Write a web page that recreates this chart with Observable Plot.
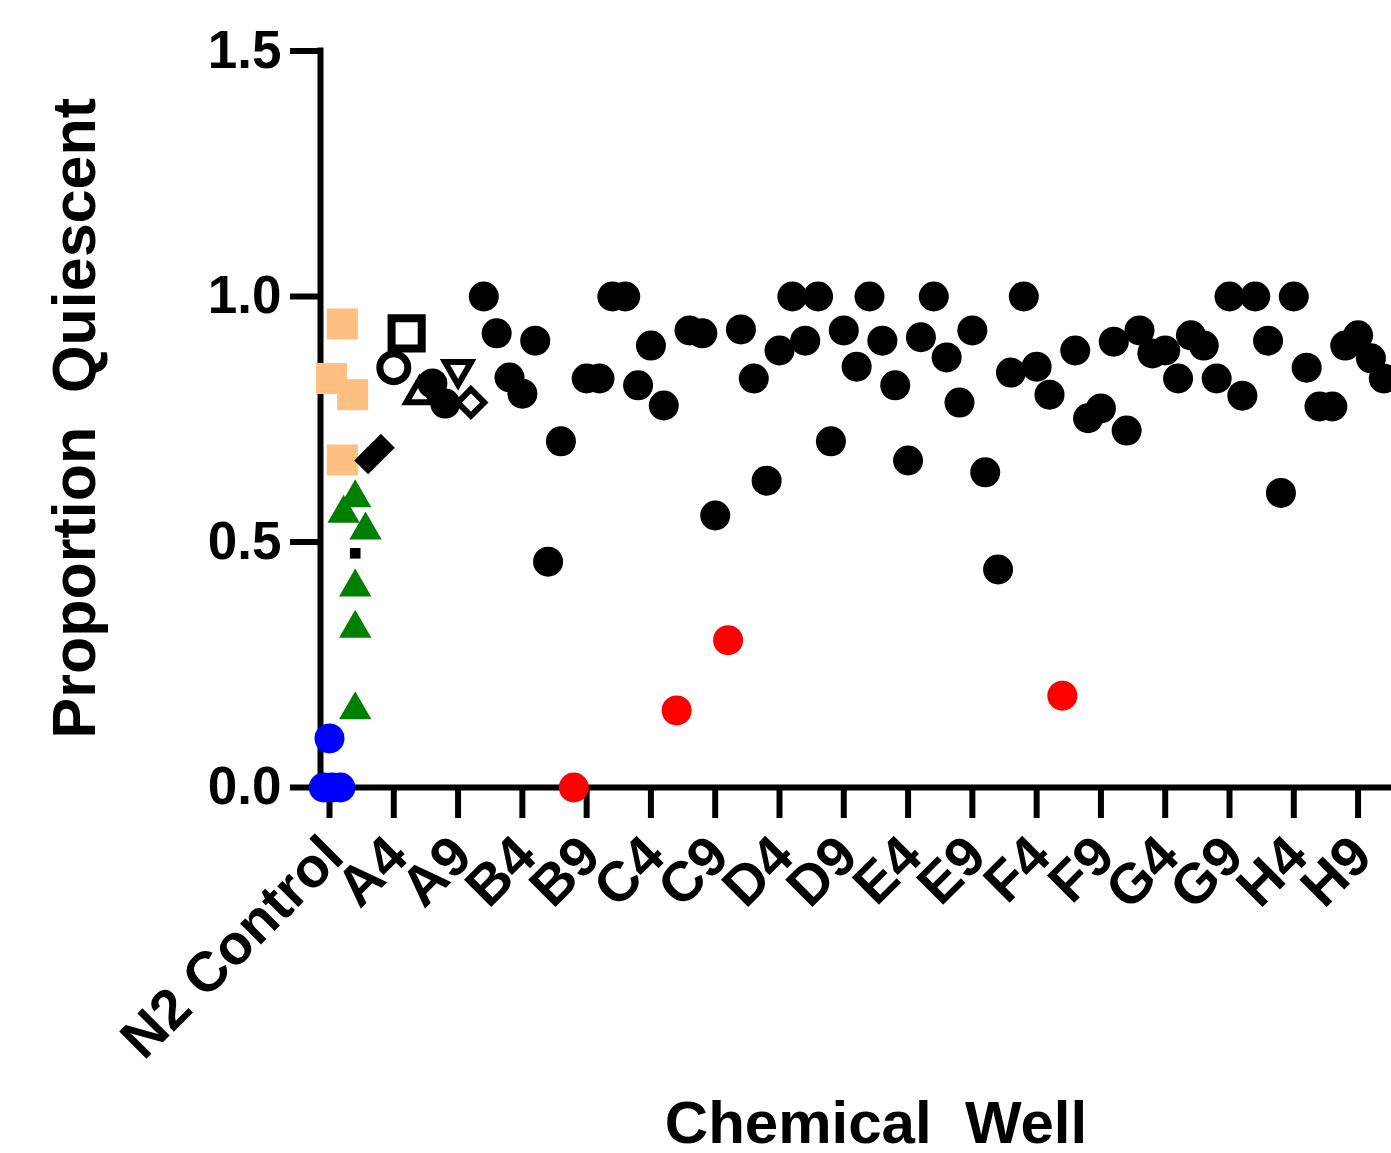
<!DOCTYPE html>
<html>
<head>
<meta charset="utf-8">
<script src="https://cdn.jsdelivr.net/npm/d3@7"></script>
<script src="https://cdn.jsdelivr.net/npm/@observablehq/plot@0.6"></script>
<style>
  html, body { margin: 0; padding: 0; background: #fff; }
  #chart svg { display: block; }
  #chart svg text { white-space: pre; }
</style>
</head>
<body>
<div id="chart"></div>
<script>
// ---- Axis ticks ----
const tickWells = [0, 5, 10, 15, 20, 25, 30, 35, 40, 45, 50, 55, 60, 65, 70, 75, 80];
const tickLabels = ["N2 Control", "A4", "A9", "B4", "B9", "C4", "C9", "D4", "D9", "E4", "E9", "F4", "F9", "G4", "G9", "H4", "H9"];
const yTicks = [0, 0.5, 1.0, 1.5];

// ---- Control columns (column position, value) ----
const n2ControlX = [0, -0.45, 0.2, 0.85];
const n2ControlY = [0.1, 0, 0, 0];

const orangeX = [1.0, 0.15, 1.8, 1.0];
const orangeY = [0.944, 0.833, 0.8, 0.667];

const greenX = [2.0, 1.1, 2.8, 2.0, 2.0, 2.0];
const greenY = [0.59, 0.558, 0.524, 0.408, 0.324, 0.158];

const smallSquareX = [2];
const smallSquareY = [0.477];

const blackDiamondX = [3, 4];
const blackDiamondY = [0.666, 0.692];

const openCircleX = [5];   const openCircleY = [0.855];
const openSquareX = [6];   const openSquareY = [0.925];
const openTriUpX = [7];    const openTriUpY = [0.80];
const openTriDownX = [10]; const openTriDownY = [0.851];
const openDiamondX = [11]; const openDiamondY = [0.784];

// ---- Screened wells (black circles), wells 8-9 and 12-82 ----
const earlyWellX = [8, 9];
const earlyWellY = [0.823, 0.782];

const screenStart = 12;
const screenValues = [
  1.0, 0.925, 0.835, 0.802, 0.91, 0.46, 0.705, 0.0,      // 12-19
  0.833, 0.833, 1.0, 1.0, 0.819, 0.9, 0.778, 0.157,      // 20-27
  0.931, 0.925, 0.554, 0.3, 0.933, 0.833, 0.625, 0.89,   // 28-35
  1.0, 0.91, 1.0, 0.705, 0.931, 0.857, 1.0, 0.91,        // 36-43
  0.819, 0.666, 0.917, 1.0, 0.876, 0.784, 0.931, 0.642,  // 44-51
  0.444, 0.845, 1.0, 0.857, 0.80, 0.187, 0.89, 0.752,    // 52-59
  0.772, 0.908, 0.727, 0.931, 0.884, 0.89, 0.833, 0.921, // 60-67
  0.90, 0.833, 1.0, 0.798, 1.0, 0.91, 0.60, 1.0,         // 68-75
  0.855, 0.776, 0.776, 0.90, 0.921, 0.874, 0.833        // 76-82
];
// wells flagged as hits (red)
const hitWells = [19, 27, 31, 57];

// ---- Build tables ----
const pts = (xs, ys) => xs.map((x, i) => ({x, y: ys[i]}));
const screen = screenValues.map((v, i) => ({x: screenStart + i, y: v, hit: hitWells.includes(screenStart + i)}));
const blackWells = pts(earlyWellX, earlyWellY).concat(screen.filter(d => !d.hit));
const redWells = screen.filter(d => d.hit);

const triangleDown = {
  draw(context, size) {
    const s = Math.sqrt(size) * 0.6824, t = s / 2, u = s * Math.sqrt(3) / 2;
    context.moveTo(0, s);
    context.lineTo(-u, -t);
    context.lineTo(u, -t);
    context.closePath();
  }
};

const xDomain = [-0.7, 82.6];
const font = "'Liberation Sans', Arial, Helvetica, sans-serif";

const chart = Plot.plot({
  width: 1391,
  height: 1153,
  marginLeft: 320,
  marginRight: 0,
  marginTop: 50.5,
  marginBottom: 366,
  x: {domain: xDomain, axis: null},
  y: {domain: [0, 1.5], axis: null},
  style: {fontFamily: font, background: "white", color: "black"},
  marks: [
    // axes lines
    Plot.ruleY([0], {x1: xDomain[0], x2: xDomain[1], stroke: "black", strokeWidth: 6}),
    Plot.ruleX([xDomain[0]], {y1: 0, y2: 1.5, stroke: "black", strokeWidth: 6, strokeLinecap: "square"}),
    Plot.axisY({
      ticks: yTicks, tickFormat: d => d.toFixed(1), tickSize: 30, tickPadding: 9,
      strokeWidth: 6, fontSize: 53, fontWeight: "bold", label: null
    }),
    // x tick marks
    Plot.axisX({
      ticks: tickWells, tickSize: 31, strokeWidth: 6, text: null, label: null
    }),
    // x tick labels
    Plot.axisX({
      ticks: tickWells, tickFormat: d => tickLabels[tickWells.indexOf(d)],
      tickSize: 0, tickPadding: 59, tickRotate: -45, dx: 4,
      fontSize: 56, fontWeight: "bold", label: null
    }),
    // titles
    Plot.text(["Proportion  Quiescent"], {
      frameAnchor: "left", rotate: -90, textAnchor: "middle", lineAnchor: "middle",
      dx: -245, dy: -1, fontSize: 61, fontWeight: "bold", fill: "black"
    }),
    Plot.text(["Chemical  Well"], {
      frameAnchor: "bottom", textAnchor: "middle", lineAnchor: "bottom",
      dx: 20, dy: 355, fontSize: 60, fontWeight: "bold", fill: "black"
    }),
    // data
    Plot.dot(pts(n2ControlX, n2ControlY), {x: "x", y: "y", r: 15, fill: "#0000ff", symbol: "circle"}),
    Plot.dot(pts(orangeX, orangeY), {x: "x", y: "y", r: 17.5, fill: "#ffbf80", symbol: "square"}),
    Plot.dot(pts(greenX, greenY), {x: "x", y: "y", r: 12, fill: "#008000", symbol: "triangle"}),
    Plot.dot(pts(smallSquareX, smallSquareY), {x: "x", y: "y", r: 6, fill: "black", symbol: "square"}),
    Plot.dot(pts(blackDiamondX, blackDiamondY), {x: "x", y: "y", r: 12.5, fill: "black", symbol: "diamond2"}),
    Plot.dot(pts(openCircleX, openCircleY), {x: "x", y: "y", r: 14, fill: "white", stroke: "black", strokeWidth: 7, symbol: "circle"}),
    Plot.dot(pts(openSquareX, openSquareY), {x: "x", y: "y", r: 17, fill: "white", stroke: "black", strokeWidth: 8, symbol: "square"}),
    Plot.dot(pts(openTriUpX, openTriUpY), {x: "x", y: "y", r: 12.5, fill: "white", stroke: "black", strokeWidth: 6, symbol: "triangle2"}),
    Plot.dot(blackWells, {x: "x", y: "y", r: 15, fill: "black", symbol: "circle"}),
    Plot.dot(redWells, {x: "x", y: "y", r: 15, fill: "#ff0000", symbol: "circle"}),
    Plot.dot(pts(openTriDownX, openTriDownY), {x: "x", y: "y", r: 12.5, fill: "white", stroke: "black", strokeWidth: 6, symbol: triangleDown}),
    Plot.dot(pts(openDiamondX, openDiamondY), {x: "x", y: "y", r: 12, fill: "white", stroke: "black", strokeWidth: 6, symbol: "diamond2"})
  ]
});
document.getElementById("chart").appendChild(chart);
</script>
</body>
</html>
